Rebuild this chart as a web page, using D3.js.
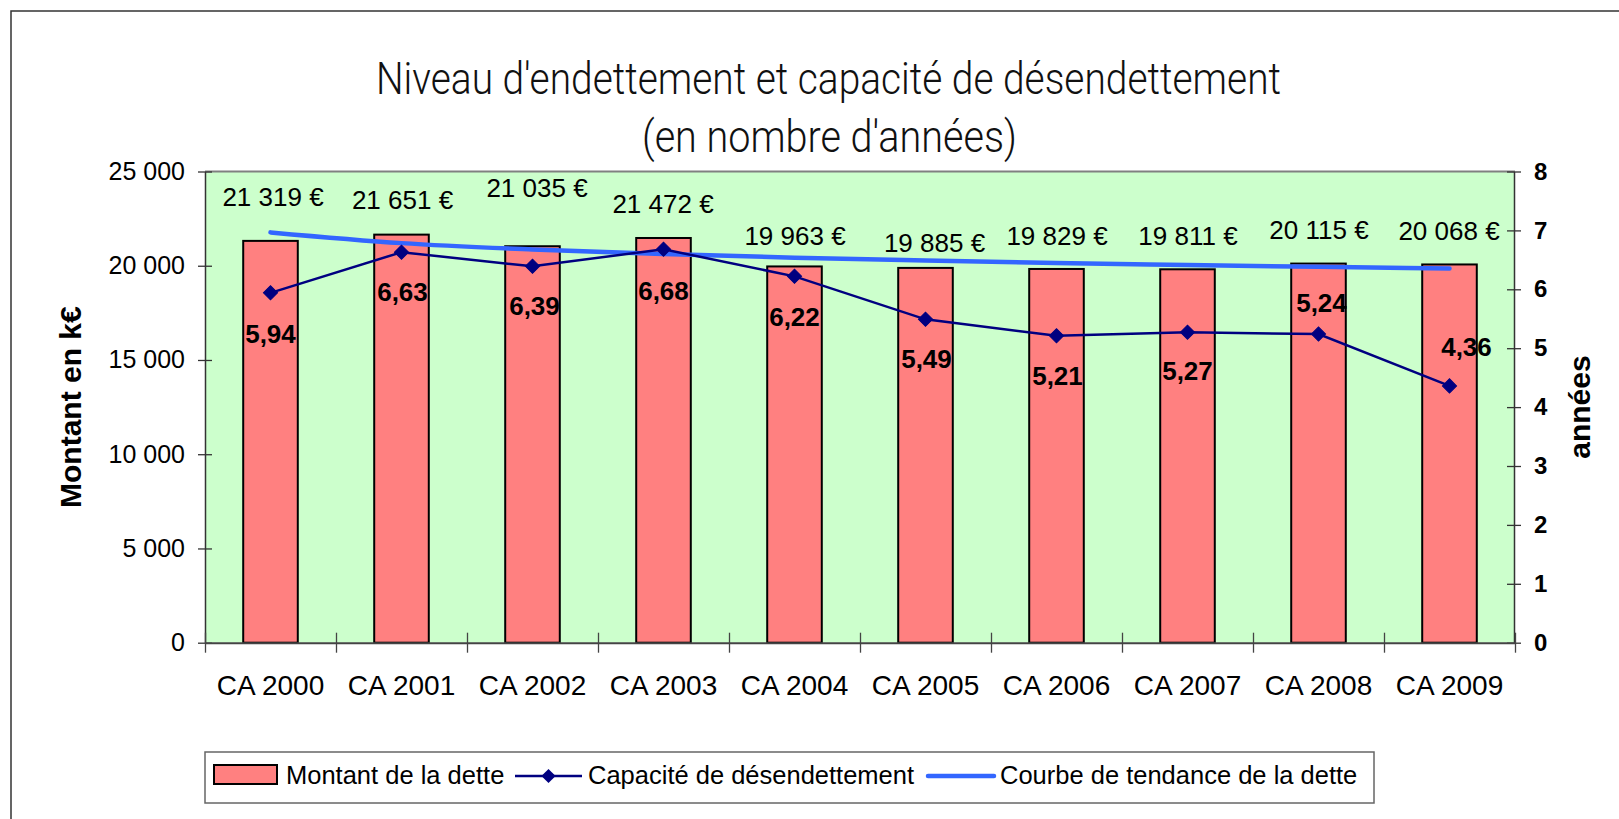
<!DOCTYPE html>
<html>
<head>
<meta charset="utf-8">
<script src="https://cdn.jsdelivr.net/npm/d3@7"></script>
<style>
  html, body { margin: 0; padding: 0; background: #fff; }
  svg { display: block; font-family: "Liberation Sans", Arial, sans-serif; }
</style>
</head>
<body>
<svg id="chart" width="1619" height="819"></svg>
<script>
// ---- data ----
const categories = ["CA 2000","CA 2001","CA 2002","CA 2003","CA 2004","CA 2005","CA 2006","CA 2007","CA 2008","CA 2009"];
const debtValues = [21319, 21651, 21035, 21472, 19963, 19885, 19829, 19811, 20115, 20068];
const capacityValues = [5.94, 6.63, 6.39, 6.68, 6.22, 5.49, 5.21, 5.27, 5.24, 4.36];
// trend line (courbe de tendance) at each category
const trendValues = [21770, 21200, 20860, 20620, 20430, 20280, 20150, 20040, 19940, 19860];
const leftTicks = [0, 5000, 10000, 15000, 20000, 25000];
const rightTicks = [0, 1, 2, 3, 4, 5, 6, 7, 8];
const titleLines = ["Niveau d'endettement et capacité de désendettement", "(en nombre d'années)"];
const legendLabels = ["Montant de la dette", "Capacité de désendettement", "Courbe de tendance de la dette"];

// ---- layout (label placement offsets, manually placed in original) ----
const debtLabelDx = [2.5, 1, 4.5, -0.5, 0.5, 9, 0.5, 0.5, 0.5, -0.5];
const debtLabelDy = [-44, -35, -58, -34, -31, -25, -33, -33, -34, -34];
const capLabelDx = [0, 1, 2, 0, 0, 1, 1, 0, 3, 17];
const capLabelDy = [41, 40, 39.5, 41.6, 40.4, 40, 40.4, 38.5, -31.5, -38.5];

const svg = d3.select("#chart");
const W = 1619, H = 819;
const plot = { left: 205, right: 1515, top: 171.5, bottom: 642.7 };

const loc = d3.formatLocale({ decimal: ",", thousands: " ", grouping: [3], currency: ["", " €"] });
const fmtThousands = loc.format(",");
const fmtDec = loc.format(",.2f");

// outer frame
svg.append("rect").attr("x", 11).attr("y", 11).attr("width", W + 50).attr("height", H + 50)
  .attr("fill", "#fff").attr("stroke", "#333").attr("stroke-width", 1.5);

// scales
const x = d3.scaleBand().domain(categories).range([plot.left, plot.right]).padding(0);
const xb = d3.scaleLinear().domain([0, categories.length]).range([plot.left, plot.right]);
const yL = d3.scaleLinear().domain([0, 25000]).range([plot.bottom, plot.top]);
const yR = d3.scaleLinear().domain([0, 8]).range([plot.bottom, plot.top]);
const barW = x.bandwidth() / (1 + 1.4);
const cx = d => x(d) + x.bandwidth() / 2;

// plot background
svg.append("rect").attr("x", plot.left).attr("y", plot.top)
  .attr("width", plot.right - plot.left).attr("height", plot.bottom - plot.top)
  .attr("fill", "#CCFFCC");
svg.append("line").attr("x1", plot.left).attr("x2", plot.right).attr("y1", plot.top).attr("y2", plot.top)
  .attr("stroke", "#808080").attr("stroke-width", 2);

// title
const title = svg.append("g").attr("font-family", "Roboto, 'Liberation Sans', sans-serif")
  .attr("font-weight", 300).attr("fill", "#111");
title.append("text").attr("x", 376).attr("y", 93.5).attr("font-size", 45)
  .attr("textLength", 905).attr("lengthAdjust", "spacingAndGlyphs").text(titleLines[0]);
title.append("text").attr("x", 642).attr("y", 152).attr("font-size", 45)
  .attr("textLength", 375).attr("lengthAdjust", "spacingAndGlyphs").text(titleLines[1]);

// bars
svg.append("g").selectAll("rect").data(categories).join("rect")
  .attr("x", (d) => cx(d) - barW / 2)
  .attr("y", (d, i) => yL(debtValues[i]))
  .attr("width", barW)
  .attr("height", (d, i) => yL(0) - yL(debtValues[i]))
  .attr("fill", "#FF8080").attr("stroke", "#000").attr("stroke-width", 2);

// left axis
const axL = svg.append("g").attr("transform", `translate(${plot.left},0)`)
  .call(d3.axisLeft(yL).tickValues(leftTicks).tickFormat(fmtThousands).tickSizeInner(7).tickSizeOuter(0).tickPadding(13));
axL.select(".domain").attr("stroke", "#333").attr("stroke-width", 1.5);
axL.selectAll(".tick line").attr("x1", -7).attr("x2", 7).attr("stroke", "#333").attr("stroke-width", 1.3);
axL.selectAll(".tick text").attr("font-size", 25).attr("fill", "#000").attr("font-family", "Liberation Sans, Arial, sans-serif");

// right axis
const axR = svg.append("g").attr("transform", `translate(${plot.right - 1},0)`)
  .call(d3.axisRight(yR).tickValues(rightTicks).tickFormat(d3.format("d")).tickSizeInner(7).tickSizeOuter(0).tickPadding(13));
axR.select(".domain").attr("stroke", "#333").attr("stroke-width", 1.5);
axR.selectAll(".tick line").attr("x1", -7).attr("x2", 7).attr("stroke", "#333").attr("stroke-width", 1.3);
axR.selectAll(".tick text").attr("font-size", 24).attr("font-weight", "bold").attr("fill", "#000")
  .attr("font-family", "Liberation Sans, Arial, sans-serif");

// bottom axis: boundary ticks + labels
const axB = svg.append("g").attr("transform", `translate(0,${plot.bottom})`)
  .call(d3.axisBottom(xb).tickValues(d3.range(categories.length + 1)).tickFormat("").tickSizeInner(10).tickSizeOuter(0));
axB.select(".domain").attr("stroke", "#444").attr("stroke-width", 2);
axB.selectAll(".tick line").attr("y1", -10).attr("y2", 10).attr("stroke", "#444").attr("stroke-width", 1.3);
const axBL = svg.append("g").attr("transform", `translate(0,${plot.bottom})`)
  .call(d3.axisBottom(x).tickSize(0));
axBL.select(".domain").remove();
axBL.selectAll(".tick text").attr("y", 52).attr("dy", null).attr("font-size", 28).attr("fill", "#000")
  .attr("font-family", "Liberation Sans, Arial, sans-serif");

// axis titles
svg.append("text").attr("transform", `translate(81,${(plot.top + plot.bottom) / 2}) rotate(-90)`)
  .attr("text-anchor", "middle").attr("font-size", 30).attr("font-weight", "bold").text("Montant en k€");
svg.append("text").attr("transform", `translate(1590,${(plot.top + plot.bottom) / 2}) rotate(-90)`)
  .attr("text-anchor", "middle").attr("font-size", 30).attr("font-weight", "bold").text("années");

// trend line
svg.append("path").datum(trendValues)
  .attr("d", d3.line().x((d, i) => cx(categories[i])).y(d => yL(d)).curve(d3.curveMonotoneX))
  .attr("fill", "none").attr("stroke", "#3366FF").attr("stroke-width", 4.5).attr("stroke-linecap", "round");

// capacity line
svg.append("path").datum(capacityValues)
  .attr("d", d3.line().x((d, i) => cx(categories[i])).y(d => yR(d)))
  .attr("fill", "none").attr("stroke", "#000080").attr("stroke-width", 2.5);
svg.append("g").selectAll("path").data(capacityValues).join("path")
  .attr("transform", (d, i) => `translate(${cx(categories[i])},${yR(d)}) rotate(45)`)
  .attr("d", d3.symbol().type(d3.symbolSquare).size(100))
  .attr("fill", "#000080").attr("stroke", "#000080").attr("stroke-width", 1);

// debt labels
svg.append("g").selectAll("text").data(debtValues).join("text")
  .attr("x", (d, i) => cx(categories[i]) + debtLabelDx[i])
  .attr("y", (d, i) => yL(d) + debtLabelDy[i])
  .attr("dy", "0.35em").attr("text-anchor", "middle").attr("font-size", 26).attr("fill", "#000")
  .text(d => fmtThousands(d) + " €");

// capacity labels
svg.append("g").selectAll("text").data(capacityValues).join("text")
  .attr("x", (d, i) => cx(categories[i]) + capLabelDx[i])
  .attr("y", (d, i) => yR(d) + capLabelDy[i])
  .attr("dy", "0.35em").attr("text-anchor", "middle").attr("font-size", 26).attr("font-weight", "bold").attr("fill", "#000")
  .text(d => fmtDec(d));

// legend
const lg = svg.append("g");
lg.append("rect").attr("x", 205).attr("y", 752).attr("width", 1169).attr("height", 51)
  .attr("fill", "#fff").attr("stroke", "#666").attr("stroke-width", 1.5);
lg.append("rect").attr("x", 214).attr("y", 765).attr("width", 63).attr("height", 19)
  .attr("fill", "#FF8080").attr("stroke", "#000").attr("stroke-width", 2);
lg.append("text").attr("x", 286).attr("y", 784).attr("font-size", 25.5).text(legendLabels[0]);
lg.append("line").attr("x1", 515).attr("x2", 582).attr("y1", 776).attr("y2", 776)
  .attr("stroke", "#000080").attr("stroke-width", 2.5);
lg.append("path").attr("transform", "translate(548.5,776) rotate(45)")
  .attr("d", d3.symbol().type(d3.symbolSquare).size(100)).attr("fill", "#000080");
lg.append("text").attr("x", 588).attr("y", 784).attr("font-size", 25.5).text(legendLabels[1]);
lg.append("line").attr("x1", 928).attr("x2", 994).attr("y1", 776).attr("y2", 776)
  .attr("stroke", "#3366FF").attr("stroke-width", 4.5).attr("stroke-linecap", "round");
lg.append("text").attr("x", 1000).attr("y", 784).attr("font-size", 25.5).text(legendLabels[2]);
</script>
</body>
</html>
